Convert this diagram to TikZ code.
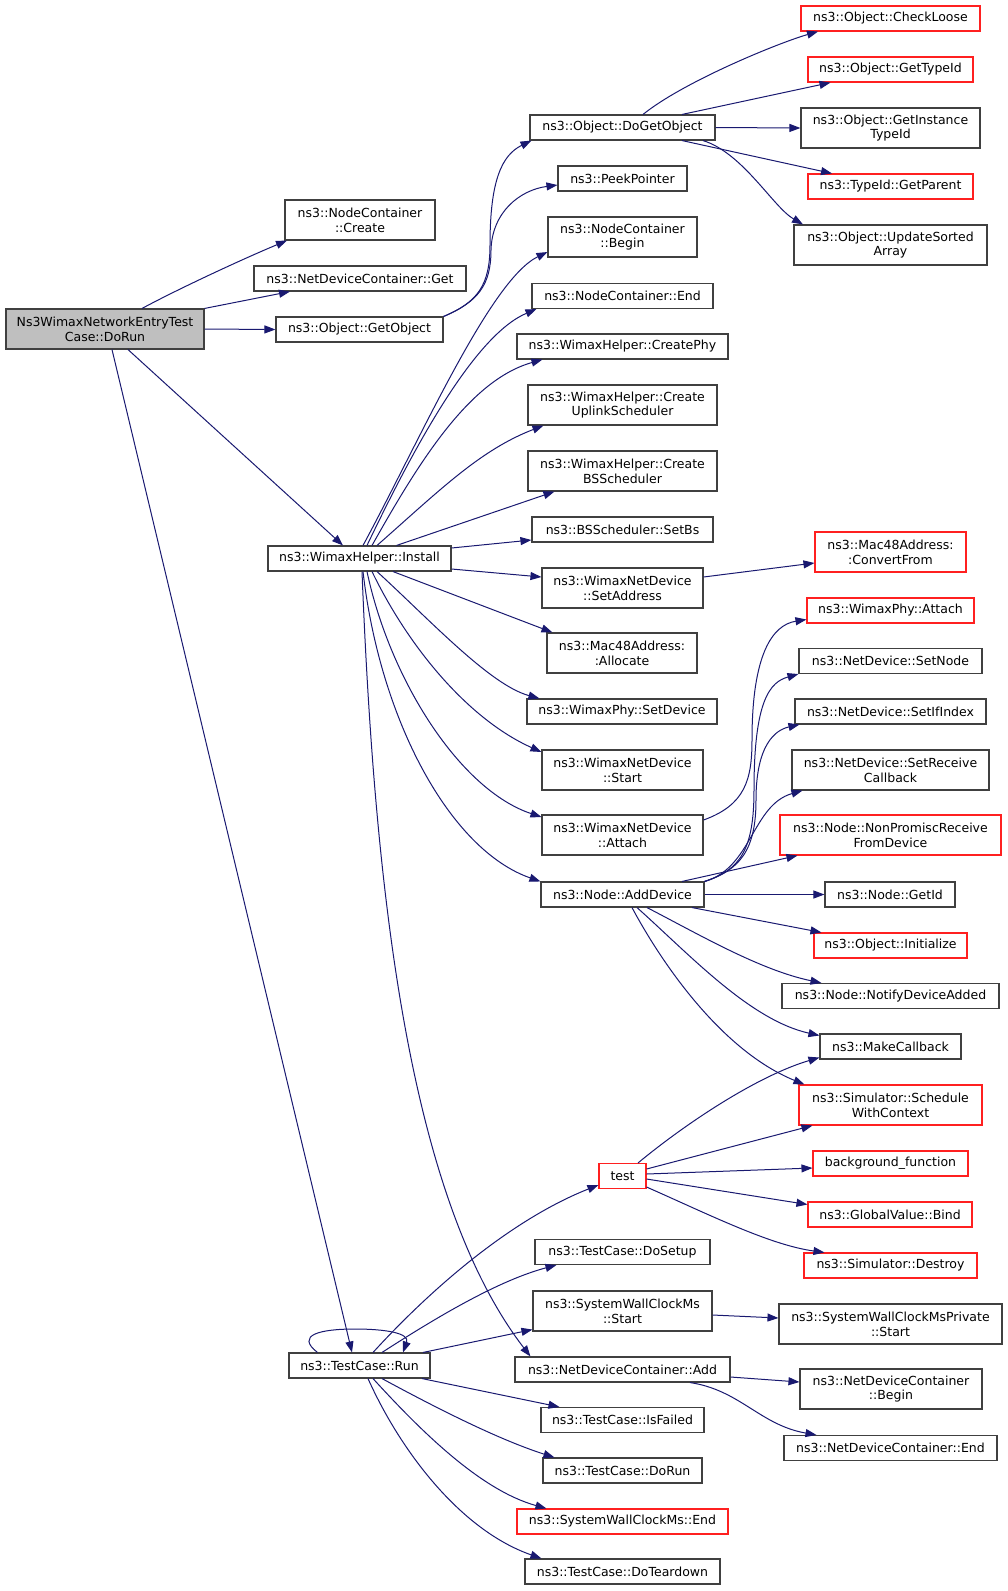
\documentclass[tikz,border=0pt]{standalone}
\usepackage{fontspec}
\setmainfont{DejaVu Sans}
\usetikzlibrary{arrows.meta}
\definecolor{edgec}{HTML}{191970}
\definecolor{boxc}{HTML}{404040}
\definecolor{redc}{HTML}{FF2020}
\definecolor{fillg}{HTML}{BFBFBF}
\begin{document}
\begin{tikzpicture}[x=1pt,y=-1pt,
 box/.style={draw=boxc, line width=1.1pt, fill=white, rectangle, inner sep=0pt, minimum height=25pt, align=center, font=\fontsize{12.5}{14.7}\selectfont},
 rbox/.style={box, draw=redc},
 tall/.style={minimum height=40pt},
 edge/.style={draw=edgec, line width=1pt, -{Triangle[length=11pt,width=8pt]}}]
\useasboundingbox (0,0) rectangle (1008,1591);
% column 1
\node[box, tall, fill=fillg, minimum width=198pt] (DoRun) at (105,329) {Ns3WimaxNetworkEntryTest\\Case::DoRun};
\node[box, tall, minimum width=150pt] (Create) at (360,220) {ns3::NodeContainer\\::Create};
\node[box, minimum width=212pt] (NDCGet) at (360,278.5) {ns3::NetDeviceContainer::Get};
\node[box, minimum width=167pt] (GetObject) at (359.5,329.5) {ns3::Object::GetObject};
\node[box, minimum width=183pt] (Install) at (359.5,558.5) {ns3::WimaxHelper::Install};
\node[box, minimum width=141pt] (Run) at (359.5,1365.5) {ns3::TestCase::Run};
% column 2
\node[box, minimum width=185pt] (DoGetObject) at (622.5,127.5) {ns3::Object::DoGetObject};
\node[box, minimum width=129pt] (PeekPointer) at (622.5,178.5) {ns3::PeekPointer};
\node[box, tall, minimum width=149pt] (NCBegin) at (622.5,237) {ns3::NodeContainer\\::Begin};
\node[box, minimum width=181pt] (NCEnd) at (622.5,296) {ns3::NodeContainer::End};
\node[box, minimum width=211pt] (CreatePhy) at (622.5,346.5) {ns3::WimaxHelper::CreatePhy};
\node[box, tall, minimum width=189pt] (CreateUpl) at (622.5,405) {ns3::WimaxHelper::Create\\UplinkScheduler};
\node[box, tall, minimum width=189pt] (CreateBS) at (622.5,471) {ns3::WimaxHelper::Create\\BSScheduler};
\node[box, minimum width=181pt] (SetBs) at (622.5,529.5) {ns3::BSScheduler::SetBs};
\node[box, tall, minimum width=161pt] (SetAddress) at (622.5,588) {ns3::WimaxNetDevice\\::SetAddress};
\node[box, tall, minimum width=150pt] (Allocate) at (622,653) {ns3::Mac48Address:\\:Allocate};
\node[box, minimum width=190pt] (SetDevice) at (622,711.5) {ns3::WimaxPhy::SetDevice};
\node[box, tall, minimum width=161pt] (WStart) at (622.5,770) {ns3::WimaxNetDevice\\::Start};
\node[box, tall, minimum width=161pt] (WAttach) at (622.5,835) {ns3::WimaxNetDevice\\::Attach};
\node[box, minimum width=163pt] (AddDevice) at (622.5,894.5) {ns3::Node::AddDevice};
\node[rbox, minimum width=47pt] (test) at (622.5,1176) {test};
\node[box, minimum width=175pt] (DoSetup) at (622.5,1252) {ns3::TestCase::DoSetup};
\node[box, tall, minimum width=179pt] (SWCStart) at (622.5,1311) {ns3::SystemWallClockMs\\::Start};
\node[box, minimum width=215pt] (NDCAdd) at (622.5,1369.5) {ns3::NetDeviceContainer::Add};
\node[box, minimum width=163pt] (IsFailed) at (622.5,1420) {ns3::TestCase::IsFailed};
\node[box, minimum width=159pt] (TCDoRun) at (622.5,1470.5) {ns3::TestCase::DoRun};
\node[rbox, minimum width=211pt] (SWCEnd) at (622.5,1521.5) {ns3::SystemWallClockMs::End};
\node[box, minimum width=195pt] (DoTeardown) at (622.5,1571.5) {ns3::TestCase::DoTeardown};
% column 3
\node[rbox, minimum width=179pt] (CheckLoose) at (890.5,18.5) {ns3::Object::CheckLoose};
\node[rbox, minimum width=165pt] (GetTypeId) at (890.5,69.5) {ns3::Object::GetTypeId};
\node[box, tall, minimum width=179pt] (GetInstTypeId) at (890.5,128) {ns3::Object::GetInstance\\TypeId};
\node[rbox, minimum width=165pt] (GetParent) at (890.5,186.5) {ns3::TypeId::GetParent};
\node[box, tall, minimum width=193pt] (UpdateSorted) at (890.5,245) {ns3::Object::UpdateSorted\\Array};
\node[rbox, tall, minimum width=151pt] (ConvertFrom) at (890.5,552) {ns3::Mac48Address:\\:ConvertFrom};
\node[rbox, minimum width=167pt] (WPAttach) at (890.5,610.5) {ns3::WimaxPhy::Attach};
\node[box, minimum width=183pt] (SetNode) at (890.5,661) {ns3::NetDevice::SetNode};
\node[box, minimum width=191pt] (SetIfIndex) at (890.5,711.5) {ns3::NetDevice::SetIfIndex};
\node[box, tall, minimum width=197pt] (SetRecvCb) at (890.5,770) {ns3::NetDevice::SetReceive\\Callback};
\node[rbox, tall, minimum width=221pt] (NonPromisc) at (890.5,835) {ns3::Node::NonPromiscReceive\\FromDevice};
\node[box, minimum width=130pt] (GetId) at (890,894.5) {ns3::Node::GetId};
\node[rbox, minimum width=153pt] (Initialize) at (890.5,945.5) {ns3::Object::Initialize};
\node[box, minimum width=217pt] (NotifyDev) at (890.5,996) {ns3::Node::NotifyDeviceAdded};
\node[box, minimum width=141pt] (MakeCallback) at (890.5,1046.5) {ns3::MakeCallback};
\node[rbox, tall, minimum width=183pt] (SchedCtx) at (890.5,1105) {ns3::Simulator::Schedule\\WithContext};
\node[rbox, minimum width=155pt] (bgfunc) at (890.5,1163.5) {background\_function};
\node[rbox, minimum width=164pt] (GVBind) at (890,1214.5) {ns3::GlobalValue::Bind};
\node[rbox, minimum width=173pt] (SimDestroy) at (890.5,1265.5) {ns3::Simulator::Destroy};
\node[box, tall, minimum width=223pt] (SWCPStart) at (890.5,1324) {ns3::SystemWallClockMsPrivate\\::Start};
\node[box, tall, minimum width=182pt] (NDCBegin) at (891,1389) {ns3::NetDeviceContainer\\::Begin};
\node[box, minimum width=213pt] (NDCEnd) at (890.5,1448) {ns3::NetDeviceContainer::End};
% edges from DoRun
\draw[edge] ([shift={(37,0)}]DoRun.north) .. controls (180,288) and (245,258) .. ([shift={(-73,0)}]Create.south);
\draw[edge] (DoRun.north east) -- ([shift={(-70,0)}]NDCGet.south);
\draw[edge] (DoRun.east) -- (GetObject.west);
\draw[edge] ([shift={(23,0)}]DoRun.south) -- ([shift={(-16.5,0)}]Install.north);
\draw[edge] ([shift={(7,0)}]DoRun.south) -- ([shift={(-7.5,0)}]Run.north);
% GetObject
\draw[edge] (GetObject.north east) .. controls (478,302) and (490,285) .. (490,245) .. controls (490,180) and (502,155) .. ([shift={(2,0)}]DoGetObject.south west);
\draw[edge] (GetObject.north east) .. controls (478,302) and (491,285) .. (491,250) .. controls (492,212) and (520,190) .. ([shift={(0,6.5)}]PeekPointer.west);
% DoGetObject
\draw[edge] ([shift={(20.5,0)}]DoGetObject.north) .. controls (683,82) and (778,43) .. ([shift={(-72.5,0)}]CheckLoose.south);
\draw[edge] ([shift={(59.5,0)}]DoGetObject.north) -- ([shift={(-60,0)}]GetTypeId.south);
\draw[edge] (DoGetObject.east) -- (GetInstTypeId.west);
\draw[edge] ([shift={(59.5,0)}]DoGetObject.south) -- ([shift={(-58.5,0)}]GetParent.north);
\draw[edge] ([shift={(80.5,0)}]DoGetObject.south) .. controls (743,153) and (773,207) .. ([shift={(-87.5,0)}]UpdateSorted.north);
% Install
\draw[edge] ([shift={(3.5,0)}]Install.north) .. controls (420,440) and (490,280) .. ([shift={(0,15)}]NCBegin.west);
\draw[edge] ([shift={(7.5,0)}]Install.north) .. controls (415,445) and (475,335) .. ([shift={(5,0)}]NCEnd.south west);
\draw[edge] ([shift={(12.5,0)}]Install.north) .. controls (420,460) and (470,380) .. ([shift={(26,0)}]CreatePhy.south west);
\draw[edge] ([shift={(17.5,0)}]Install.north) .. controls (440,490) and (480,450) .. ([shift={(16,0)}]CreateUpl.south west);
\draw[edge] ([shift={(37,0)}]Install.north) -- ([shift={(27,0)}]CreateBS.south west);
\draw[edge] ([shift={(0,-10.5)}]Install.east) -- ([shift={(0,10.5)}]SetBs.west);
\draw[edge] ([shift={(0,10.5)}]Install.east) -- ([shift={(0,-11)}]SetAddress.west);
\draw[edge] ([shift={(33.5,0)}]Install.south) -- ([shift={(6,0)}]Allocate.north west);
\draw[edge] ([shift={(17.5,0)}]Install.south) .. controls (430,620) and (490,685) .. ([shift={(13,0)}]SetDevice.north west);
\draw[edge] ([shift={(12.5,0)}]Install.south) .. controls (410,650) and (470,720) .. ([shift={(0,-18)}]WStart.west);
\draw[edge] ([shift={(7.5,0)}]Install.south) .. controls (390,680) and (460,790) .. ([shift={(0,-18)}]WAttach.west);
\draw[edge] ([shift={(3.5,0)}]Install.south) .. controls (380,720) and (450,850) .. (AddDevice.north west);
\draw[edge] ([shift={(2.5,0)}]Install.south) .. controls (375,900) and (410,1200) .. ([shift={(16,0)}]NDCAdd.north west);
% SetAddress, WAttach
\draw[edge] ([shift={(0,-11)}]SetAddress.east) -- ([shift={(0,11)}]ConvertFrom.west);
\draw[edge] ([shift={(0,-15)}]WAttach.east) .. controls (745,805) and (752,780) .. (752,740) .. controls (752,655) and (772,625) .. ([shift={(0,9)}]WPAttach.west);
% AddDevice
\draw[edge] ([shift={(59.5,0)}]AddDevice.north) -- ([shift={(18,0)}]NonPromisc.south west);
\draw[edge] (AddDevice.north east) .. controls (752,868) and (752,805) .. ([shift={(11,0)}]SetRecvCb.south west);
\draw[edge] (AddDevice.north east) .. controls (740,870) and (756,850) .. (756,800) .. controls (756,745) and (775,730) .. ([shift={(5,0)}]SetIfIndex.south west);
\draw[edge] (AddDevice.north east) .. controls (740,870) and (754,850) .. (754,790) .. controls (754,700) and (770,682) .. (SetNode.south west);
\draw[edge] (AddDevice.east) -- (GetId.west);
\draw[edge] ([shift={(69.5,0)}]AddDevice.south) -- ([shift={(8,0)}]Initialize.north west);
\draw[edge] ([shift={(24.5,0)}]AddDevice.south) .. controls (700,935) and (760,970) .. ([shift={(40,0)}]NotifyDev.north west);
\draw[edge] ([shift={(14.5,0)}]AddDevice.south) .. controls (690,955) and (750,1020) .. ([shift={(0,-11)}]MakeCallback.west);
\draw[edge] ([shift={(9.5,0)}]AddDevice.south) .. controls (660,960) and (720,1050) .. ([shift={(6,0)}]SchedCtx.north west);
% test
\draw[edge] ([shift={(15.5,0)}]test.north) .. controls (690,1120) and (760,1075) .. ([shift={(0,11)}]MakeCallback.west);
\draw[edge] ([shift={(0,-7)}]test.east) -- ([shift={(14,0)}]SchedCtx.south west);
\draw[edge] ([shift={(0,-2)}]test.east) -- ([shift={(0,4.5)}]bgfunc.west);
\draw[edge] ([shift={(0,3)}]test.east) -- ([shift={(0,-10)}]GVBind.west);
\draw[edge] ([shift={(0,11)}]test.east) .. controls (710,1215) and (770,1245) .. ([shift={(21,0)}]SimDestroy.north west);
% Run
\draw[edge] ([shift={(13.5,0)}]Run.north) .. controls (430,1290) and (510,1220) .. ([shift={(0,9)}]test.west);
\draw[edge] ([shift={(22.5,0)}]Run.north) .. controls (440,1315) and (500,1280) .. ([shift={(22,0)}]DoSetup.south west);
\draw[edge] ([shift={(63.5,0)}]Run.north) -- ([shift={(0,-2)}]SWCStart.south west);
\draw[edge] ([shift={(-42,0)}]Run.north) .. controls (295,1335) and (320,1329) .. (355,1329) .. controls (385,1329) and (410,1333) .. ([shift={(43.5,0)}]Run.north);
\draw[edge] ([shift={(62.5,0)}]Run.south) -- ([shift={(19,0)}]IsFailed.north west);
\draw[edge] ([shift={(22.5,0)}]Run.south) .. controls (440,1410) and (500,1440) .. ([shift={(12,0)}]TCDoRun.north west);
\draw[edge] ([shift={(13.5,0)}]Run.south) .. controls (420,1430) and (480,1490) .. ([shift={(30,0)}]SWCEnd.north west);
\draw[edge] ([shift={(8.5,0)}]Run.south) .. controls (400,1450) and (460,1530) .. ([shift={(17,0)}]DoTeardown.north west);
% others
\draw[edge] ([shift={(0,4)}]SWCStart.east) -- ([shift={(0,-6)}]SWCPStart.west);
\draw[edge] ([shift={(0,7.5)}]NDCAdd.east) -- ([shift={(0,-7)}]NDCBegin.west);
\draw[edge] ([shift={(67.5,0)}]NDCAdd.south) .. controls (740,1390) and (760,1425) .. ([shift={(33,0)}]NDCEnd.north west);
\end{tikzpicture}
\end{document}
